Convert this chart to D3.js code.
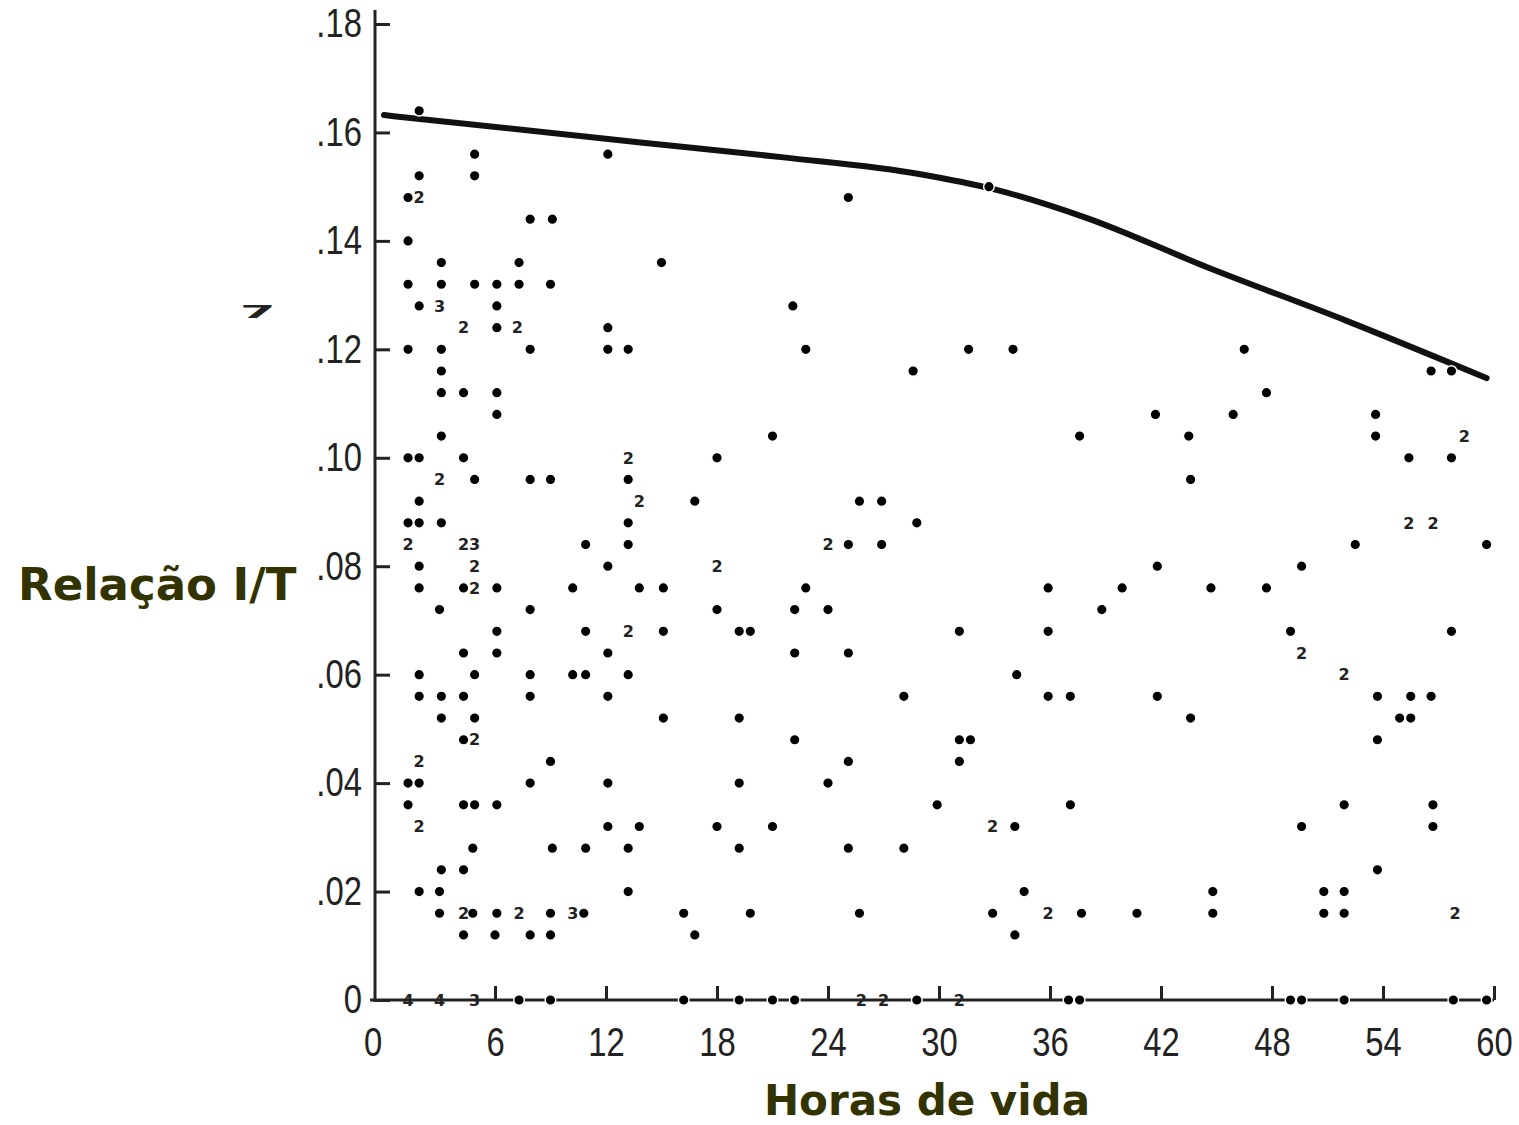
<!DOCTYPE html>
<html>
<head>
<meta charset="utf-8">
<script src="https://cdn.jsdelivr.net/npm/d3@7"></script>
<style>
  body { margin: 0; background: #fff; }
  svg { display: block; }
  .tick text { font-family: "Liberation Sans", sans-serif; font-size: 40px; fill: #222; }
  .title { font-family: "DejaVu Sans", Verdana, sans-serif; font-weight: bold; fill: #333300; }
  .count { font-family: "DejaVu Sans", sans-serif; font-weight: bold; font-size: 16px; fill: #222; }
</style>
</head>
<body>
<svg id="chart" width="1519" height="1125"></svg>
<script>
const xTicks = [0, 6, 12, 18, 24, 30, 36, 42, 48, 54, 60];
const yTicks = [0, .02, .04, .06, .08, .10, .12, .14, .16, .18];
const yTickLabels = ["0", ".02", ".04", ".06", ".08", ".10", ".12", ".14", ".16", ".18"];

// upper limit curve
const lineHours = [0, 14, 21.6, 29, 33, 38, 44.6, 52, 59.6];
const lineValues = [.1632, .1581, .1554, .1523, .1495, .1442, .1350, .1253, .1147];

// single dots, one row per I/T value: [value, [hours]]
const dotRows = [
  [.164, [1.9]],
  [.156, [4.9, 12.1]],
  [.152, [1.9, 4.9]],
  [.150, [32.7]],
  [.148, [1.3, 25.1]],
  [.144, [7.9, 9.1]],
  [.140, [1.3]],
  [.136, [3.1, 7.3, 15.0]],
  [.132, [1.3, 3.1, 4.9, 6.1, 7.3, 9.0]],
  [.128, [1.9, 6.1, 22.1]],
  [.124, [6.1, 12.1]],
  [.120, [1.3, 3.1, 7.9, 12.1, 13.2, 22.8, 31.6, 34.0, 46.5]],
  [.116, [3.1, 28.6, 56.6, 57.7]],
  [.112, [3.1, 4.3, 6.1, 47.7]],
  [.108, [6.1, 41.7, 45.9, 53.6]],
  [.104, [3.1, 21.0, 37.6, 43.5, 53.6]],
  [.100, [1.3, 1.9, 4.3, 18.0, 55.4, 57.7]],
  [.096, [4.9, 7.9, 9.0, 13.2, 43.6]],
  [.092, [1.9, 16.8, 25.7, 26.9]],
  [.088, [1.3, 1.9, 3.1, 13.2, 28.8]],
  [.084, [10.9, 13.2, 25.1, 26.9, 52.5, 59.6]],
  [.080, [1.9, 12.1, 41.8, 49.6]],
  [.076, [1.9, 4.3, 6.1, 10.2, 13.8, 15.1, 22.8, 35.9, 39.9, 44.7, 47.7]],
  [.072, [3.0, 7.9, 18.0, 22.2, 24.0, 38.8]],
  [.068, [6.1, 10.9, 15.1, 19.2, 19.8, 31.1, 35.9, 49.0, 57.7]],
  [.064, [4.3, 6.1, 12.1, 22.2, 25.1]],
  [.060, [1.9, 4.9, 7.9, 10.2, 10.9, 13.2, 34.2]],
  [.056, [1.9, 3.1, 4.3, 7.9, 12.1, 28.1, 35.9, 37.1, 41.8, 53.7, 55.5, 56.6]],
  [.052, [3.1, 4.9, 15.1, 19.2, 43.6, 54.9, 55.5]],
  [.048, [4.3, 22.2, 31.1, 31.7, 53.7]],
  [.044, [9.0, 25.1, 31.1]],
  [.040, [1.3, 1.9, 7.9, 12.1, 19.2, 24.0]],
  [.036, [1.3, 4.3, 4.9, 6.1, 29.9, 37.1, 51.9, 56.7]],
  [.032, [12.1, 13.8, 18.0, 21.0, 34.1, 49.6, 56.7]],
  [.028, [4.8, 9.1, 10.9, 13.2, 19.2, 25.1, 28.1]],
  [.024, [3.1, 4.3, 53.7]],
  [.020, [1.9, 3.0, 13.2, 34.6, 44.8, 50.8, 51.9]],
  [.016, [3.0, 4.8, 6.1, 9.0, 10.8, 16.2, 19.8, 25.7, 32.9, 37.7, 40.7, 44.8, 50.8, 51.9]],
  [.012, [4.3, 6.0, 7.9, 9.0, 16.8, 34.1]],
  [0, [7.3, 9.0, 16.2, 19.2, 21.0, 22.2, 28.8, 37.0, 37.6, 49.0, 49.6, 51.9, 57.8, 59.6]]
];

// points where several cases coincide: [hours, value, count]
const countLabels = [
  [1.9, .148, 2], [3.0, .128, 3], [4.3, .124, 2], [7.2, .124, 2], [58.4, .104, 2],
  [13.2, .100, 2], [3.0, .096, 2], [13.8, .092, 2], [55.4, .088, 2], [56.7, .088, 2],
  [1.3, .084, 2], [4.3, .084, 2], [4.9, .084, 3], [24.0, .084, 2], [4.9, .080, 2],
  [18.0, .080, 2], [4.9, .076, 2], [13.2, .068, 2], [49.6, .064, 2], [51.9, .060, 2],
  [4.9, .048, 2], [1.9, .044, 2], [1.9, .032, 2], [32.9, .032, 2], [4.3, .016, 2],
  [7.3, .016, 2], [10.2, .016, 3], [35.9, .016, 2], [57.9, .016, 2], [1.3, 0, 4],
  [3.0, 0, 4], [4.9, 0, 3], [25.8, 0, 2], [27.0, 0, 2], [31.1, 0, 2]
];

const svg = d3.select("#chart");
const x = d3.scaleLinear().domain([0, 60]).range([384, 1494]);
const y = d3.scaleLinear().domain([0, .18]).range([1000, 24]);
const axisColor = "#222";

// axes
const yAxis = svg.append("g")
  .attr("transform", "translate(375,0)")
  .call(d3.axisLeft(y).tickValues(yTicks).tickFormat((d, i) => yTickLabels[i])
    .tickSize(-15).tickPadding(16));
yAxis.select(".domain").remove();
yAxis.selectAll(".tick line").attr("stroke", axisColor).attr("stroke-width", 3);
yAxis.selectAll(".tick text").attr("transform", "scale(0.82,1)");
svg.append("line")
  .attr("x1", 375).attr("x2", 375)
  .attr("y1", y(.18) - 14).attr("y2", y(0) + 2)
  .attr("stroke", axisColor).attr("stroke-width", 3);

const xAxis = svg.append("g")
  .attr("transform", `translate(0,${y(0)})`)
  .call(d3.axisBottom(x).tickValues(xTicks).tickSize(-14).tickPadding(28));
xAxis.select(".domain").remove();
xAxis.selectAll(".tick line").attr("stroke", axisColor).attr("stroke-width", 3)
  .attr("opacity", d => d === 0 ? 0 : 1);
xAxis.selectAll(".tick text").attr("transform", "scale(0.82,1)");
xAxis.selectAll(".tick").filter(d => d === 0).select("text").attr("dx", -14);
svg.append("line")
  .attr("x1", 370).attr("x2", x(60))
  .attr("y1", y(0)).attr("y2", y(0))
  .attr("stroke", axisColor).attr("stroke-width", 3);

// curve
const line = d3.line()
  .x((d, i) => x(lineHours[i]))
  .y(d => y(d))
  .curve(d3.curveMonotoneX);
svg.append("path")
  .attr("d", line(lineValues))
  .attr("fill", "none")
  .attr("stroke", "#111")
  .attr("stroke-width", 6)
  .attr("stroke-linecap", "round");

// dots
const dots = dotRows.flatMap(([v, hs]) => hs.map(h => ({h, v})));
svg.append("g").selectAll("circle")
  .data(dots).enter()
  .append("circle")
  .attr("cx", d => x(d.h))
  .attr("cy", d => y(d.v))
  .attr("r", 5.3)
  .attr("fill", "#000")
  .attr("stroke", "#fff")
  .attr("stroke-width", 1.4);

svg.append("g").selectAll("text")
  .data(countLabels).enter()
  .append("text")
  .attr("class", "count")
  .attr("x", d => x(d[0]))
  .attr("y", d => y(d[1]))
  .attr("dy", "0.36em")
  .attr("text-anchor", "middle")
  .text(d => d[2]);

// titles
svg.append("text")
  .attr("class", "title")
  .attr("x", 18).attr("y", 600)
  .attr("font-size", 45)
  .text("Relação I/T");
svg.append("text")
  .attr("class", "title")
  .attr("x", 927).attr("y", 1115)
  .attr("font-size", 42)
  .attr("text-anchor", "middle")
  .text("Horas de vida");

// leftover mark of the original scan's axis label
svg.append("text")
  .attr("transform", "translate(240,318) scale(1.7,0.6)")
  .attr("font-family", "DejaVu Sans")
  .attr("font-weight", "bold")
  .attr("font-size", 30)
  .attr("fill", "#222")
  .text("7");
</script>
</body>
</html>
